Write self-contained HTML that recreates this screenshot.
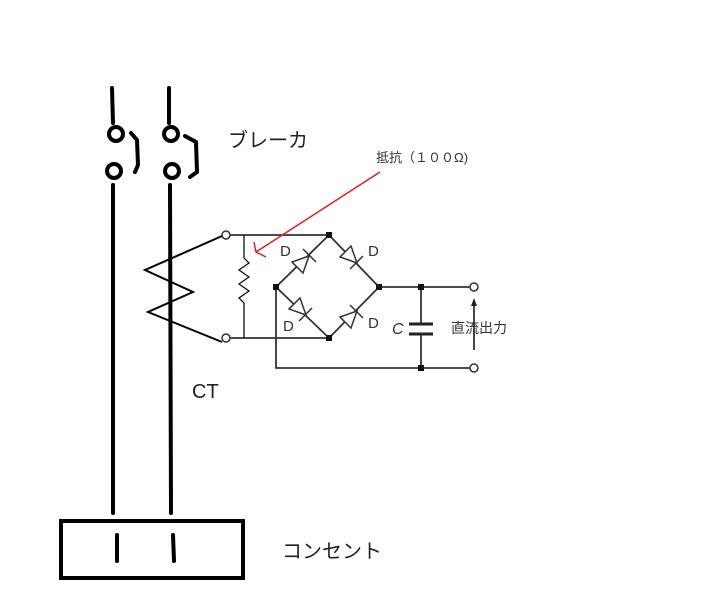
<!DOCTYPE html>
<html><head><meta charset="utf-8"><style>
body{margin:0;background:#fff;}
svg{display:block;}
text{font-family:"Liberation Sans","Noto Sans CJK JP",sans-serif;}
</style></head><body>
<svg width="710" height="599" viewBox="0 0 710 599" xmlns="http://www.w3.org/2000/svg">
<g stroke="#000" stroke-width="4" fill="none" stroke-linecap="round">
<line x1="112" y1="88" x2="113" y2="123"/>
<line x1="169" y1="88" x2="169" y2="123"/>
<circle cx="116" cy="134" r="7"/>
<circle cx="114" cy="171" r="7"/>
<circle cx="171" cy="134" r="7"/>
<circle cx="172" cy="171" r="7"/>
<polyline points="131,133 137,140 138,165 135,172"/>
<polyline points="185,136 196,142 197,172 190,177"/>
<line x1="113" y1="185" x2="113" y2="513"/>
<line x1="170" y1="185" x2="171" y2="513"/>
<rect x="61" y="521" width="182" height="57"/>
<line x1="117" y1="535" x2="117" y2="561"/>
<line x1="173" y1="535" x2="174" y2="561"/>
</g>
<g stroke="#000" stroke-width="2" fill="none">
<polyline points="222,236 145,270 193,292 148,312 222,342"/>
</g>
<g stroke="#333" stroke-width="1.8" fill="none">
<line x1="230" y1="235" x2="329" y2="235"/>
<line x1="230" y1="338" x2="329" y2="338"/>
<polyline points="276,287 329,235 379,287 329,338 276,287"/>
<line x1="379" y1="287" x2="470" y2="287"/>
<polyline points="276,287 276,368 470,368"/>
<line x1="421" y1="287" x2="421" y2="324"/>
<line x1="421" y1="334" x2="421" y2="368"/>
<line x1="474" y1="350" x2="474" y2="304"/>
</g>
<g stroke="#111" stroke-width="1.3" fill="none">
<line x1="244" y1="235" x2="244" y2="258"/>
<polyline points="244,258 249,263 239,270 249,277 239,284 249,291 239,298 244,303"/>
<line x1="244" y1="303" x2="244" y2="338"/>
</g>
<g stroke="#222" stroke-width="3"><line x1="409" y1="324" x2="433" y2="324"/><line x1="409" y1="334" x2="433" y2="334"/></g>
<polygon points="474,298 471,306 477,306" fill="#222"/>
<g fill="#fff" stroke="#333" stroke-width="1.5">
<circle cx="226" cy="235" r="4"/><circle cx="226" cy="338" r="4"/>
<circle cx="474" cy="287" r="4"/><circle cx="474" cy="368" r="4"/>
</g>
<g fill="#111">
<rect x="326" y="232" width="6" height="6"/><rect x="273" y="284" width="6" height="6"/>
<rect x="376" y="284" width="6" height="6"/><rect x="326" y="335" width="6" height="6"/>
<rect x="418" y="284" width="6" height="6"/><rect x="418" y="365" width="6" height="6"/>
</g>
<g fill="#fff" stroke="#333" stroke-width="1.5">
<polygon points="309,256 292,262 303,273"/><line x1="303" y1="249" x2="316" y2="262"/>
<polygon points="357,263 340,257 351,246"/><line x1="350" y1="269" x2="363" y2="256"/>
<polygon points="306,315 289,309 300,298"/><line x1="299" y1="321" x2="312" y2="308"/>
<polygon points="357,311 340,317 351,328"/><line x1="350" y1="305" x2="363" y2="318"/>
</g>
<g fill="#333" font-size="15">
<text x="280" y="256">D</text><text x="368" y="256">D</text>
<text x="283" y="331">D</text><text x="368" y="328">D</text>
<text x="392" y="334" font-style="italic" font-size="16">C</text>
<text x="451" y="333" font-size="14">直流出力</text>
</g>
<line x1="380" y1="172" x2="256" y2="252" stroke="#e02020" stroke-width="1.5"/>
<polyline points="254,242 256,252 266,257" stroke="#e02020" stroke-width="1.5" fill="none"/>
<text x="376" y="162" font-size="13" fill="#333">抵抗（１００Ω)</text>
<text x="228" y="147" font-size="20" fill="#222">ブレーカ</text>
<text x="192" y="398" font-size="20" fill="#222">CT</text>
<text x="282" y="558" font-size="20" fill="#222">コンセント</text>
</svg>
</body></html>
